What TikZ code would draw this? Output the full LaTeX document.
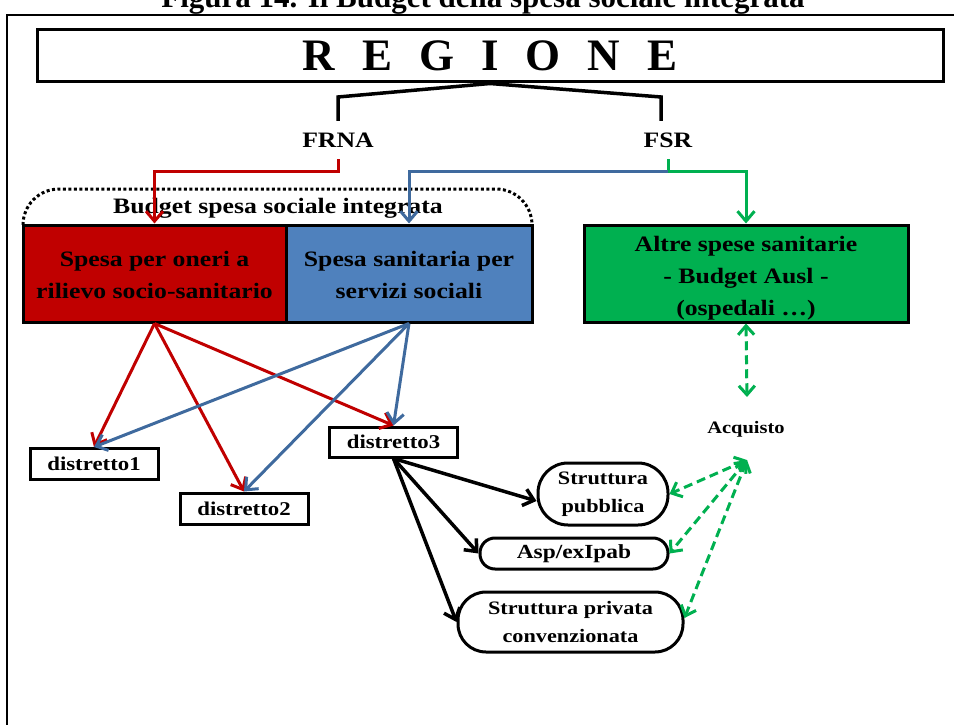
\documentclass[tikz,border=0pt]{standalone}
\usepackage{fontspec}
\setmainfont{Liberation Serif}[FakeStretch=1.17]
\newfontfamily\tnr{Liberation Serif}
\usetikzlibrary{arrows.meta}
\definecolor{redc}{HTML}{C00000}
\definecolor{bluec}{HTML}{4F81BD}
\definecolor{bluearr}{HTML}{3F6A9E}
\definecolor{greenc}{HTML}{00B050}
\begin{document}
\begin{tikzpicture}[x=1pt,y=-1pt,
  box/.style={draw=black, line width=3pt, inner sep=0pt, align=center},
  bigtxt/.style={font=\bfseries\fontsize{22}{32}\selectfont},
  lbl/.style={inner sep=0pt, font=\bfseries\fontsize{22}{26}\selectfont},
  disttxt/.style={font=\bfseries\fontsize{19.5}{22}\selectfont},
  dist/.style={box, disttxt, minimum width=128pt, minimum height=31pt},
  arr/.style={-{Straight Barb[length=10pt,width=17pt]}},
  arrs/.style={{Straight Barb[length=9pt,width=16pt]}-{Straight Barb[length=9pt,width=16pt]}},
  blk/.style={draw=black, line width=3.5pt},
  redline/.style={draw=redc, line width=3pt},
  blueline/.style={draw=bluearr, line width=3pt},
  greenline/.style={draw=greenc, line width=3pt},
  gdash/.style={draw=greenc, line width=3pt, dash pattern=on 9pt off 5pt},
]
\clip (0,0) rectangle (954,725);
% title (cut at top)
\node[anchor=base, inner sep=0pt, font=\tnr\bfseries\fontsize{31}{31}\selectfont] (title) at (483,8) {Figura 14. Il Budget della spesa sociale integrata};
% outer frame
\draw[line width=2pt] (7,740) -- (7,15) -- (970,15);
% REGIONE
\node[box, minimum width=906pt, minimum height=52pt, font=\tnr\bfseries\fontsize{45}{45}\selectfont] (reg) at (490,56)
  {R\hspace{27pt}E\hspace{27pt}G\hspace{27pt}I\hspace{27pt}O\hspace{27pt}N\hspace{27pt}E};
% funds
\node[lbl, minimum height=38pt] (frna) at (338,140) {FRNA};
\node[lbl, minimum height=38pt] (fsr) at (668,140) {FSR};
\draw[blk] (reg.south) -- (frna.north |- 0,97) -- (frna.north);
\draw[blk] (reg.south) -- ([xshift=-7pt]fsr.north |- 0,97) -- ([xshift=-7pt]fsr.north);
% dotted bracket
\coordinate (brl) at (23,225);
\coordinate (brr) at (532,225);
\draw[line width=3pt, dash pattern=on 3pt off 2.5pt, rounded corners=36pt] (brl) -- (23,189) -- (532,189) -- (brr);
\node[lbl] (budget) at (278,208) {Budget spesa sociale integrata};
% boxes
\node[box, bigtxt, fill=redc, minimum width=263pt, minimum height=97pt] (redbox) at (154.5,273.5) {\rule{0pt}{19pt}Spesa per oneri a\\rilievo socio-sanitario};
\node[box, bigtxt, fill=bluec, minimum width=246pt, minimum height=97pt] (bluebox) at (409,273.5) {\rule{0pt}{19pt}Spesa sanitaria per\\servizi sociali};
\node[box, bigtxt, fill=greenc, minimum width=324pt, minimum height=97pt] (altre) at (746,273.5) {\rule{0pt}{24pt}Altre spese sanitarie\\- Budget Ausl -\\(ospedali …)};
% fund arrows
\draw[redline, arr] (frna.south) -- (frna.south |- 0,171) -| (redbox.north);
\draw[greenline, arr] (fsr.south) -- (fsr.south |- 0,171) coordinate (fj) -| (altre.north);
\draw[blueline, arr] (fj) -| (bluebox.north);
% districts
\node[dist] (d1) at (94,464) {distretto1};
\node[dist] (d2) at (244,508.5) {distretto2};
\node[dist, minimum height=30pt] (d3) at (393.5,442) {distretto3};
\draw[redline, arr] (redbox.south) -- (d1.north);
\draw[redline, arr] (redbox.south) -- (d2.north);
\draw[redline, arr] (redbox.south) -- (d3.north);
\draw[blueline, arr] (bluebox.south) -- (d1.north);
\draw[blueline, arr] (bluebox.south) -- (d2.north);
\draw[blueline, arr] (bluebox.south) -- (d3.north);
% structures
\node[box, rounded corners=30pt, minimum width=130pt, minimum height=62pt, font=\bfseries\fontsize{19}{28}\selectfont] (sp) at (603,494) {Struttura\\pubblica};
\node[box, rounded corners=15pt, minimum width=188pt, minimum height=31pt, font=\bfseries\fontsize{20}{22}\selectfont] (asp) at (574,553.5) {Asp/exIpab};
\node[box, rounded corners=28pt, minimum width=225pt, minimum height=60pt, font=\bfseries\fontsize{19}{28}\selectfont] (spc) at (570.5,622) {Struttura privata\\convenzionata};
\draw[blk, arr] (d3.south) -- ([yshift=-7pt]sp.west);
\draw[blk, arr] (d3.south) -- (asp.west);
\draw[blk, arr] (d3.south) -- (spc.west);
% acquisto
\node[inner sep=0pt, font=\bfseries\fontsize{17.5}{20}\selectfont] (acq) at (746,429) {Acquisto};
\coordinate (acqtop) at (747,397);
\coordinate (acqbot) at (747,460);
\draw[gdash, arrs] (altre.south) -- (acqtop);
\draw[gdash, arrs] (acqbot) -- (sp.east);
\draw[gdash, arrs] (acqbot) -- (asp.east);
\draw[gdash, arrs] (acqbot) -- ([yshift=4pt]spc.east);
\end{tikzpicture}
\end{document}
